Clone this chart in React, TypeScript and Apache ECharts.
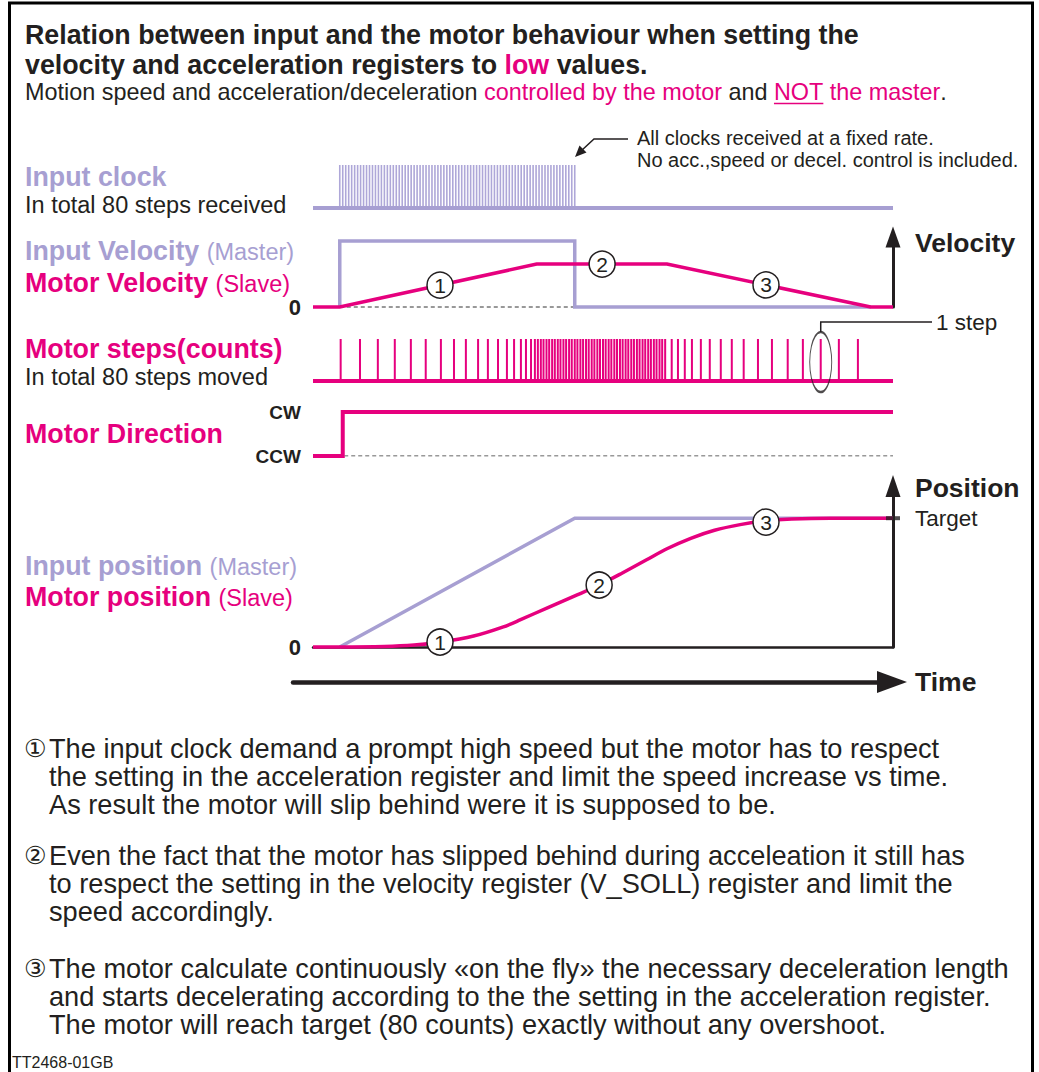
import React, { useEffect, useRef } from "react";
import * as echarts from "echarts";

const PINK = "#E6007E";
const LAVENDER = "#A79FD2";
const LAVENDER_PULSE = "#AEA7D8";
const DARK = "#231F20";
const FONT = '"Liberation Sans", Arial, Helvetica, sans-serif';

// Time axis in units of one input-clock period
const timeMin = -9;
const timeMax = 186;

// 80 input clocks at a fixed rate
const clockPulseTimes = [
  0, 1, 2, 3, 4, 5, 6, 7, 8, 9, 10, 11, 12, 13, 14, 15, 16, 17, 18, 19,
  20, 21, 22, 23, 24, 25, 26, 27, 28, 29, 30, 31, 32, 33, 34, 35, 36, 37, 38, 39,
  40, 41, 42, 43, 44, 45, 46, 47, 48, 49, 50, 51, 52, 53, 54, 55, 56, 57, 58, 59,
  60, 61, 62, 63, 64, 65, 66, 67, 68, 69, 70, 71, 72, 73, 74, 75, 76, 77, 78, 79,
];

// 80 motor steps (accelerating, constant speed, decelerating)
const motorStepTimes = [
  0.3, 6.8, 12.8, 18.5, 23.9, 28.9, 34.0, 38.4, 42.4, 46.5, 49.8, 53.2, 56.2, 58.6, 60.9, 62.6, 64.3, 65.6, 66.6,
  67.6, 68.5, 69.5, 70.4, 71.4, 72.3, 73.3, 74.2, 75.2, 76.1, 77.1, 78.0, 79.0, 79.9, 80.9, 81.8, 82.8, 83.7, 84.7,
  85.6, 86.6, 87.5, 88.5, 89.4, 90.4, 91.3, 92.3, 93.2, 94.2, 95.1, 96.1, 97.0, 98.0, 98.9, 99.9, 100.8, 101.8,
  102.7, 103.7, 104.6, 105.6, 106.5, 107.5, 108.4, 109.4,
  111.6, 113.7, 116.0, 118.4, 121.4, 124.4, 128.1, 131.8, 135.8, 140.6, 145.3, 150.6, 155.7, 161.7, 167.8, 174.2,
];

// velocity in % of the input (master) velocity
const inputVelocity = [[0, 0], [0, 100], [79, 100], [79, 0], [178.5, 0]];
const motorVelocity = [[-9, 0], [0, 0], [66.2, 65], [110, 65], [178.5, 0], [186, 0]];
const velocityZeroDash = [[0, 0], [79, 0]];

// direction: 0 = CCW, 1 = CW
const directionCategories = ["CCW", "CW"];
const motorDirection = [[-9, 0], [1, 0], [1, 1], [186, 1]];
const directionDash = [[1.5, 0], [186, 0]];

// position in counts
const targetCounts = 80;
const inputPosition = [[0, 0], [79, 80], [186, 80]];
const motorPosition = [
  [-9, 0], [0, 0], [15, 0.3], [25, 1.2], [33.7, 3.0], [45, 6.8], [55, 12.5], [60.6, 16.8], [70, 24.5],
  [80, 32.5], [87.2, 38.5], [95, 46.0], [103, 54.0], [110, 61.0], [118, 67.5], [126, 72.5], [134.6, 76.0],
  [143, 78.3], [152, 79.5], [165, 80], [186, 80],
];

const markLabels = ["1", "2", "3"];
const velocityMarks = [[33.7, 33.1], [88.2, 65], [143.3, 33.4]];
const positionMarks = [[33.7, 3.1], [87.2, 38.5], [143.3, 77.6]];
const oneStepMark = [161.7, 0.45];

const notes = [
  [
    "The input clock demand a prompt high speed but the motor has to respect",
    "the setting in the acceleration register and limit the speed increase vs time.",
    "As result the motor will slip behind were it is supposed to be.",
  ],
  [
    "Even the fact that the motor has slipped behind during acceleation it still has",
    "to respect the setting in the velocity register (V_SOLL) register and limit the",
    "speed accordingly.",
  ],
  [
    "The motor calculate continuously «on the fly» the necessary deceleration length",
    "and starts decelerating according to the the setting in the acceleration register.",
    "The motor will reach target (80 counts) exactly without any overshoot.",
  ],
];
const noteMarks = ["①", "②", "③"];

function pulses(times: number[]) {
  const out: number[][] = [];
  times.forEach((t) => {
    out.push([t, 0], [t, 1], [t, 0]);
  });
  return out;
}

const measureCtx = document.createElement("canvas").getContext("2d") as CanvasRenderingContext2D;
function measure(text: string, font: string) {
  measureCtx.font = font;
  return measureCtx.measureText(text).width;
}

function txt(x: number, y: number, text: string, size: number, weight: string, fill: string, extra: any = {}) {
  return {
    type: "text",
    x,
    y,
    silent: true,
    style: {
      text,
      fontFamily: FONT,
      fontSize: size,
      fontWeight: weight,
      fill,
      align: "left",
      verticalAlign: "middle",
      ...extra,
    },
  };
}

function lineSeries(xi: number, yi: number, data: any[], color: string, width: number, extra: any = {}) {
  return {
    type: "line",
    xAxisIndex: xi,
    yAxisIndex: yi,
    data,
    symbol: "none",
    showSymbol: false,
    silent: true,
    clip: false,
    lineStyle: { color, width, cap: "butt", join: "miter" },
    ...extra,
  };
}

function markSeries(xi: number, yi: number, pts: number[][]) {
  return {
    type: "scatter",
    xAxisIndex: xi,
    yAxisIndex: yi,
    z: 10,
    silent: true,
    clip: false,
    symbol: "circle",
    symbolSize: 26,
    itemStyle: { color: "#ffffff", borderColor: DARK, borderWidth: 1.5, opacity: 1 },
    label: {
      show: true,
      position: "inside",
      formatter: "{b}",
      fontSize: 21,
      color: DARK,
      fontFamily: FONT,
    },
    data: pts.map((p, i) => ({ name: markLabels[i], value: p })),
  };
}

const hiddenX = (gridIndex: number) => ({ type: "value", gridIndex, min: timeMin, max: timeMax, show: false });

const axisNameStyle = {
  fontFamily: FONT,
  fontSize: 26.5,
  fontWeight: "bold",
  color: DARK,
  align: "left",
  verticalAlign: "middle",
  padding: [0, 0, 0, 22],
};

const option: any = {
  animation: false,
  textStyle: { fontFamily: FONT },
  grid: [
    { left: 313, top: 165, width: 580, height: 43 },
    { left: 313, top: 237, width: 580, height: 70 },
    { left: 313, top: 339, width: 580, height: 42 },
    { left: 313, top: 412, width: 580, height: 44 },
    { left: 313, top: 486, width: 580, height: 161 },
    { left: 293, top: 672, width: 599, height: 10 },
  ].map((g) => ({ ...g, containLabel: false, outerBoundsMode: "none" })),
  xAxis: [
    hiddenX(0),
    hiddenX(1),
    hiddenX(2),
    hiddenX(3),
    {
      type: "value",
      gridIndex: 4,
      min: timeMin,
      max: timeMax,
      axisLine: { show: true, onZero: false, lineStyle: { color: DARK, width: 2.5 } },
      axisTick: { show: false },
      axisLabel: { show: false },
      splitLine: { show: false },
    },
    {
      type: "value",
      gridIndex: 5,
      min: timeMin,
      max: timeMax,
      position: "bottom",
      axisLine: {
        show: true,
        onZero: false,
        symbol: ["none", "triangle"],
        symbolSize: [22, 30],
        lineStyle: { color: DARK, width: 4.5 },
      },
      axisTick: { show: false },
      axisLabel: { show: false },
      splitLine: { show: false },
      name: "Time",
      nameLocation: "end",
      nameGap: 23,
      nameTextStyle: { ...axisNameStyle, padding: 0 },
    },
  ],
  yAxis: [
    { type: "value", gridIndex: 0, min: 0, max: 1, show: false },
    {
      type: "value",
      gridIndex: 1,
      min: 0,
      max: 106,
      position: "right",
      axisLine: {
        show: true,
        onZero: false,
        symbol: ["none", "triangle"],
        symbolSize: [15, 21],
        lineStyle: { color: DARK, width: 3 },
      },
      axisTick: { show: false },
      axisLabel: { show: false },
      splitLine: { show: false },
      name: "Velocity",
      nameLocation: "end",
      nameGap: -6,
      nameTextStyle: axisNameStyle,
    },
    {
      type: "value",
      gridIndex: 1,
      min: 0,
      max: 106,
      position: "left",
      axisLine: { show: false, onZero: false },
      axisTick: { show: false },
      splitLine: { show: false },
      axisLabel: {
        customValues: [0],
        formatter: (v: number) => (v === 0 ? "0" : ""),
        fontSize: 22,
        fontWeight: "bold",
        color: DARK,
        margin: 12,
      },
    },
    { type: "value", gridIndex: 2, min: 0, max: 1, show: false },
    {
      type: "category",
      gridIndex: 3,
      data: directionCategories,
      boundaryGap: false,
      axisLine: { show: false, onZero: false },
      axisTick: { show: false },
      splitLine: { show: false },
      axisLabel: { fontSize: 19, fontWeight: "bold", color: DARK, margin: 12 },
    },
    {
      type: "value",
      gridIndex: 4,
      min: 0,
      max: 100,
      interval: 20,
      position: "right",
      axisLine: {
        show: true,
        onZero: false,
        symbol: ["none", "triangle"],
        symbolSize: [15, 22],
        lineStyle: { color: DARK, width: 3 },
      },
      axisTick: { show: false },
      splitLine: { show: false },
      axisLabel: {
        customValues: [targetCounts],
        formatter: (v: number) => (v === targetCounts ? "Target" : ""),
        fontSize: 22.5,
        color: DARK,
        margin: 22,
      },
      name: "Position",
      nameLocation: "end",
      nameGap: -2,
      nameTextStyle: axisNameStyle,
    },
    {
      type: "value",
      gridIndex: 4,
      min: 0,
      max: 100,
      interval: 20,
      position: "left",
      axisLine: { show: false, onZero: false },
      axisTick: { show: false },
      splitLine: { show: false },
      axisLabel: {
        customValues: [0],
        formatter: (v: number) => (v === 0 ? "0" : ""),
        fontSize: 22,
        fontWeight: "bold",
        color: DARK,
        margin: 12,
      },
    },
    { type: "value", gridIndex: 5, min: 0, max: 1, show: false },
  ],
  series: [
    // input clock
    lineSeries(0, 0, pulses(clockPulseTimes), LAVENDER_PULSE, 1.6, { lineStyle: { color: LAVENDER_PULSE, width: 1.6, join: "bevel" } }),
    lineSeries(0, 0, [[timeMin, 0], [timeMax, 0]], LAVENDER, 4),
    // velocity
    lineSeries(1, 1, velocityZeroDash, DARK, 1, { lineStyle: { color: "#333", width: 1, type: [4, 3] } }),
    lineSeries(1, 1, inputVelocity, LAVENDER, 3.5),
    lineSeries(1, 1, motorVelocity, PINK, 3.5),
    markSeries(1, 1, velocityMarks),
    // motor steps
    lineSeries(2, 3, pulses(motorStepTimes), PINK, 2, { lineStyle: { color: PINK, width: 2, join: "bevel" } }),
    lineSeries(2, 3, [[timeMin, 0], [timeMax, 0]], PINK, 4),
    {
      type: "scatter",
      xAxisIndex: 2,
      yAxisIndex: 3,
      silent: true,
      clip: false,
      z: 10,
      symbol: "circle",
      symbolSize: [22, 60],
      itemStyle: { color: "rgba(0,0,0,0)", borderColor: DARK, borderWidth: 1.5 },
      data: [oneStepMark],
    },
    // direction
    lineSeries(3, 4, directionDash, DARK, 1, { lineStyle: { color: "#333", width: 1, type: [4, 3] } }),
    lineSeries(3, 4, motorDirection, PINK, 4),
    // position
    lineSeries(4, 5, inputPosition, LAVENDER, 3.5),
    lineSeries(4, 5, motorPosition, PINK, 3.5, { smooth: 0.3 }),
    markSeries(4, 5, positionMarks),
    {
      type: "scatter",
      xAxisIndex: 4,
      yAxisIndex: 5,
      silent: true,
      clip: false,
      z: 10,
      symbol: "rect",
      symbolSize: [14, 4],
      itemStyle: { color: DARK },
      data: [[timeMax, targetCounts]],
    },
    { type: "line", xAxisIndex: 5, yAxisIndex: 7, data: [], silent: true },
  ],
};

function buildGraphic(chart: any) {
  const g: any[] = [];
  // frame
  g.push({
    type: "polyline",
    silent: true,
    shape: { points: [[9.5, 1072], [9.5, 3], [1032.5, 3], [1032.5, 1072]] },
    style: { stroke: "#000", lineWidth: 3, fill: "none" },
  });

  // title
  const titleSize = 26.8;
  g.push(txt(25, 35, "Relation between input and the motor behaviour when setting the", titleSize, "bold", DARK));
  g.push(
    txt(25, 65, "velocity and acceleration registers to {p|low} values.", titleSize, "bold", DARK, {
      rich: { p: { fill: PINK, fontSize: titleSize, fontWeight: "bold", fontFamily: FONT } },
    })
  );
  const subSize = 23.4;
  const subFont = `${subSize}px "Liberation Sans"`;
  g.push(
    txt(
      25,
      92,
      "Motion speed and acceleration/deceleration {p|controlled by the motor} and {p|NOT} {p|the master}.",
      subSize,
      "normal",
      DARK,
      { rich: { p: { fill: PINK, fontSize: subSize, fontFamily: FONT } } }
    )
  );
  const notX = 25 + measure("Motion speed and acceleration/deceleration controlled by the motor and ", subFont);
  const notW = measure("NOT", subFont);
  g.push({
    type: "line",
    silent: true,
    shape: { x1: notX, y1: 103.5, x2: notX + notW, y2: 103.5 },
    style: { stroke: PINK, lineWidth: 1.5 },
  });

  // left labels
  const bigSize = 26.8;
  const smallSize = 23.5;
  const bigFont = `bold ${bigSize}px "Liberation Sans"`;
  const pair = (y: number, main: string, sub: string, color: string) => {
    g.push(txt(25, y, main, bigSize, "bold", color));
    const x2 = 25 + measure(main + " ", bigFont);
    g.push(txt(x2, y + 1.2, sub, smallSize, "normal", color));
  };
  g.push(txt(25, 177, "Input clock", bigSize, "bold", LAVENDER));
  g.push(txt(25, 205, "In total 80 steps received", smallSize, "normal", DARK));
  pair(251, "Input Velocity", "(Master)", LAVENDER);
  pair(283, "Motor Velocity", "(Slave)", PINK);
  g.push(txt(25, 349, "Motor steps(counts)", bigSize, "bold", PINK));
  g.push(txt(25, 377, "In total 80 steps moved", smallSize, "normal", DARK));
  g.push(txt(25, 434, "Motor Direction", bigSize, "bold", PINK));
  pair(566, "Input position", "(Master)", LAVENDER);
  pair(597, "Motor position", "(Slave)", PINK);

  // clock annotation
  g.push({
    type: "polyline",
    silent: true,
    shape: { points: [[628, 139], [594, 139], [581, 151]] },
    style: { stroke: DARK, lineWidth: 1.5, fill: "none" },
  });
  g.push({
    type: "polygon",
    silent: true,
    shape: { points: [[575, 157], [586.5, 152.5], [579.5, 145.5]] },
    style: { fill: DARK },
  });
  g.push(txt(637, 138, "All clocks received at a fixed rate.", 20, "normal", DARK));
  g.push(txt(637, 160, "No acc.,speed or decel. control is included.", 20, "normal", DARK));

  // one step annotation
  const p = chart.convertToPixel({ xAxisIndex: 2, yAxisIndex: 3 }, oneStepMark);
  const topY = p[1] - 30;
  const legY = topY - 10;
  g.push({
    type: "polyline",
    silent: true,
    shape: { points: [[p[0], topY], [p[0], legY], [932, legY]] },
    style: { stroke: DARK, lineWidth: 1.5, fill: "none" },
  });
  g.push(txt(936, legY, "1 step", 22.5, "normal", DARK));

  // notes
  const noteSize = 27.2;
  const firstY = [748, 855, 968];
  notes.forEach((lines, i) => {
    g.push(txt(24, firstY[i], noteMarks[i], 25, "normal", DARK, { fontFamily: '"DejaVu Sans", ' + FONT }));
    lines.forEach((line, j) => {
      g.push(txt(49, firstY[i] + j * 28, line, noteSize, "normal", DARK));
    });
  });
  g.push(txt(12, 1062, "TT2468-01GB", 16, "normal", DARK));
  return g;
}

export default function App() {
  const ref = useRef<HTMLDivElement>(null);
  useEffect(() => {
    document.body.style.margin = "0";
    const chart = echarts.init(ref.current as HTMLDivElement, null, { renderer: "svg" });
    chart.setOption(option);
    chart.setOption({ graphic: buildGraphic(chart) });
    return () => chart.dispose();
  }, []);
  return <div ref={ref} style={{ width: 1039, height: 1072, background: "#fff" }} />;
}
